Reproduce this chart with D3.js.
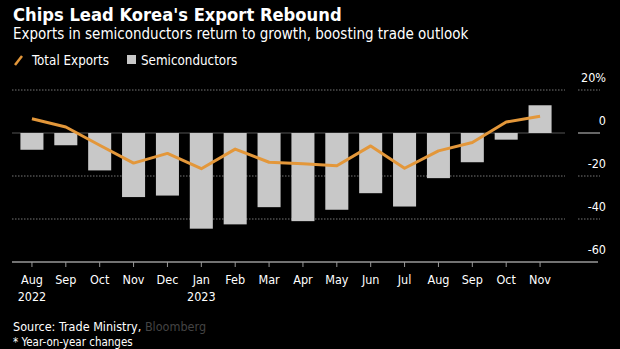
<!DOCTYPE html>
<html><head><meta charset="utf-8">
<script src="https://cdn.jsdelivr.net/npm/d3@7"></script>
<style>
html,body{margin:0;padding:0;background:#000;}
svg{display:block;font-family:"DejaVu Sans Condensed","DejaVu Sans",sans-serif;}
</style></head>
<body>
<script>
const months = ["Aug","Sep","Oct","Nov","Dec","Jan","Feb","Mar","Apr","May","Jun","Jul","Aug","Sep","Oct","Nov"];
const years = ["2022","","","","","2023","","","","","","","","","",""];
const semiconductors = [-7.8,-5.7,-17.4,-29.8,-29.1,-44.5,-42.5,-34.5,-41.0,-35.7,-28.0,-34.2,-21.0,-13.6,-3.1,12.9];
const totalExports = [6.6,2.8,-5.7,-14.0,-9.5,-16.6,-7.5,-13.6,-14.3,-15.2,-6.0,-16.4,-8.3,-4.4,5.1,7.8];
const yTicks = [20,0,-20,-40,-60];

const W=620,H=349;
const svg=d3.select("body").append("svg").attr("width",W).attr("height",H);
svg.append("rect").attr("width",W).attr("height",H).attr("fill","#000");

const idx=d3.range(months.length);
const x=d3.scaleBand().domain(idx).range([15,557]).paddingInner(0.32).paddingOuter(0.16);
const y=d3.scaleLinear().domain([-60,20]).range([262,90]);

// Titles
svg.append("text").attr("x",13).attr("y",21).attr("fill","#fff").attr("font-size",18.2).attr("font-weight","bold").text("Chips Lead Korea's Export Rebound");
svg.append("text").attr("x",13).attr("y",39).attr("fill","#fff").attr("font-size",15).text("Exports in semiconductors return to growth, boosting trade outlook");

// Legend
const lg=svg.append("g");
lg.append("line").attr("x1",15).attr("y1",65).attr("x2",22).attr("y2",56).attr("stroke","#e3973a").attr("stroke-width",2.5);
lg.append("text").attr("x",32).attr("y",65).attr("fill","#fff").attr("font-size",13.3).text("Total Exports");
lg.append("rect").attr("x",127).attr("y",55).attr("width",9).attr("height",9).attr("fill","#c8c8c8");
lg.append("text").attr("x",141).attr("y",65).attr("fill","#fff").attr("font-size",13.3).text("Semiconductors");

// Gridlines
yTicks.forEach(t=>{
  if(t===-60) return;
  const yy=y(t);
  if(t===0){
    svg.append("line").attr("x1",12).attr("x2",565).attr("y1",yy).attr("y2",yy).attr("stroke","#555").attr("stroke-width",1);
    svg.append("line").attr("x1",578).attr("x2",600).attr("y1",yy).attr("y2",yy).attr("stroke","#ccc").attr("stroke-width",1);
  } else {
    svg.append("line").attr("x1",12).attr("x2",565).attr("y1",yy).attr("y2",yy).attr("stroke","#777").attr("stroke-width",1).attr("stroke-dasharray","1.5,1.5");
    svg.append("line").attr("x1",578).attr("x2",600).attr("y1",yy).attr("y2",yy).attr("stroke","#777").attr("stroke-width",1).attr("stroke-dasharray","1.5,1.5");
  }
});

// Right axis labels
svg.selectAll("text.yl").data(yTicks).enter().append("text").attr("class","yl")
  .attr("x",606).attr("y",d=>y(d)-8).attr("text-anchor","end").attr("fill","#fff").attr("font-size",12.5)
  .text(d=>d===20?"20%":String(d));

// Bars
svg.selectAll("rect.bar").data(semiconductors).enter().append("rect").attr("class","bar")
  .attr("x",(d,i)=>x(i)).attr("width",x.bandwidth())
  .attr("y",d=>y(Math.max(0,d))).attr("height",d=>Math.abs(y(d)-y(0)))
  .attr("fill","#c8c8c8");

// Line
const line=d3.line().x((d,i)=>x(i)+x.bandwidth()/2).y(d=>y(d));
svg.append("path").datum(totalExports).attr("d",line).attr("fill","none").attr("stroke","#e3973a").attr("stroke-width",3).attr("stroke-linejoin","round");

// X axis
const axY=y(-60);
svg.append("line").attr("x1",12).attr("x2",598).attr("y1",axY).attr("y2",axY).attr("stroke","#999").attr("stroke-width",1.5);
svg.selectAll("line.tick").data(idx).enter().append("line").attr("class","tick")
  .attr("x1",i=>x(i)+x.bandwidth()/2).attr("x2",i=>x(i)+x.bandwidth()/2)
  .attr("y1",axY).attr("y2",axY+5).attr("stroke","#999").attr("stroke-width",1);
svg.selectAll("text.mo").data(idx).enter().append("text").attr("class","mo")
  .attr("x",i=>x(i)+x.bandwidth()/2).attr("y",284).attr("text-anchor","middle").attr("fill","#fff").attr("font-size",12.5)
  .text(i=>months[i]);
svg.selectAll("text.yr").data(idx.filter(i=>years[i])).enter().append("text").attr("class","yr")
  .attr("x",i=>x(i)+x.bandwidth()/2).attr("y",301).attr("text-anchor","middle").attr("fill","#fff").attr("font-size",12.5)
  .text(i=>years[i]);

// Footer
const ft=svg.append("text").attr("x",13).attr("y",331).attr("fill","#fff").attr("font-size",12.5);
ft.append("tspan").text("Source: Trade Ministry, ");
ft.append("tspan").attr("fill","#444").text("Bloomberg");
svg.append("text").attr("x",13).attr("y",346).attr("fill","#fff").attr("font-size",11.5).text("* Year-on-year changes");
</script>
</body></html>
